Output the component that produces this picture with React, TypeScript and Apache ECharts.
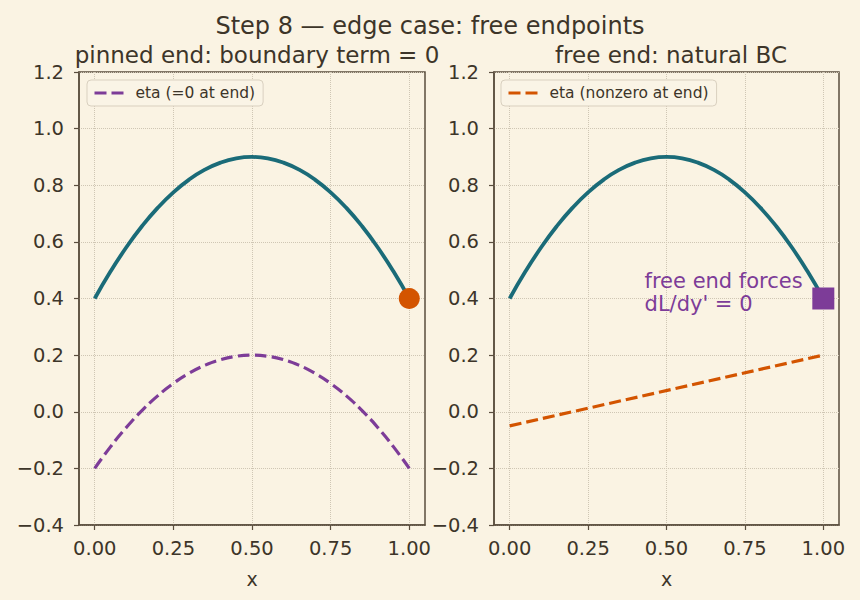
import React, { useEffect, useRef } from "react";
import * as echarts from "echarts";

const xs = [0, 0.05, 0.1, 0.15, 0.2, 0.25, 0.3, 0.35, 0.4, 0.45, 0.5, 0.55, 0.6, 0.65, 0.7, 0.75, 0.8, 0.85, 0.9, 0.95, 1.0];
const yCurve = [0.4, 0.495, 0.58, 0.655, 0.72, 0.775, 0.82, 0.855, 0.88, 0.895, 0.9, 0.895, 0.88, 0.855, 0.82, 0.775, 0.72, 0.655, 0.58, 0.495, 0.4];
const etaPinned = [-0.2, -0.124, -0.056, 0.004, 0.056, 0.1, 0.136, 0.164, 0.184, 0.196, 0.2, 0.196, 0.184, 0.164, 0.136, 0.1, 0.056, 0.004, -0.056, -0.124, -0.2];
const etaFreeX = [0, 1];
const etaFreeY = [-0.05, 0.2];
const endPoint = [1, 0.4];
const annotPoint = [0.43, 0.42];
const xTicks = [0, 0.25, 0.5, 0.75, 1.0];

const BG = "#faf3e3";
const TEXT = "#3d3529";
const AXIS = "#5a4e3e";
const GRID = "#cfc6b4";
const TEAL = "#1a6b78";
const PURPLE = "#7d3c98";
const ORANGE = "#d35400";
const FONT = "DejaVu Sans";
const DASH = [12, 5];

const zip = (a: number[], b: number[]) => a.map((v, i) => [v, b[i]]);

const fmtY = (v: number) => (v < 0 ? "\u2212" + Math.abs(v).toFixed(1) : v.toFixed(1));

export default function App() {
  const ref = useRef<HTMLDivElement>(null);
  useEffect(() => {
    if (!ref.current) return;
    const chart = echarts.init(ref.current, undefined, { renderer: "svg" });
    const xAxisBase = (gi: number) => ({
      type: "value" as const,
      gridIndex: gi,
      min: -0.05,
      max: 1.05,
      name: "x",
      nameLocation: "middle" as const,
      nameGap: 44,
      nameTextStyle: { color: TEXT, fontSize: 19, fontFamily: FONT },
      axisLine: { show: true, onZero: false, lineStyle: { color: AXIS, width: 1.5 } },
      axisTick: { show: true, length: 5, lineStyle: { color: AXIS, width: 1.2 }, customValues: xTicks },
      axisLabel: {
        color: TEXT,
        fontSize: 19.5,
        fontFamily: FONT,
        margin: 13,
        customValues: xTicks,
        formatter: (v: number) => v.toFixed(2),
      },
      splitLine: { show: true, lineStyle: { color: GRID, type: "dotted", width: 1 }, customValues: xTicks },
    });
    const yAxisBase = (gi: number) => ({
      type: "value" as const,
      gridIndex: gi,
      min: -0.4,
      max: 1.2,
      interval: 0.2,
      axisLine: { show: true, onZero: false, lineStyle: { color: AXIS, width: 1.5 } },
      axisTick: { show: true, length: 5, lineStyle: { color: AXIS, width: 1.2 } },
      axisLabel: { color: TEXT, fontSize: 19.5, fontFamily: FONT, margin: 15, formatter: fmtY },
      splitLine: { show: true, lineStyle: { color: GRID, type: "dotted", width: 1 } },
    });
    const legendBase = {
      orient: "vertical" as const,
      top: 80,
      itemWidth: 31,
      itemHeight: 12,
      itemGap: 0,
      padding: [5, 8, 5, 6],
      borderColor: "#d9d0bf",
      borderWidth: 1,
      borderRadius: 4,
      backgroundColor: "#faf4e6",
      itemStyle: { opacity: 0 },
      lineStyle: { width: 3, type: DASH },
      textStyle: { color: TEXT, fontSize: 15.5, fontFamily: FONT, padding: [0, 0, 0, 5] },
    };
    chart.setOption({
      animation: false,
      backgroundColor: BG,
      textStyle: { fontFamily: FONT },
      title: [
        { text: "Step 8 \u2014 edge case: free endpoints", left: "center", top: 9, textStyle: { color: TEXT, fontSize: 24, fontWeight: "normal", fontFamily: FONT } },
        { text: "pinned end: boundary term = 0", left: 252, textAlign: "center", top: 38, textStyle: { color: TEXT, fontSize: 23, fontWeight: "normal", fontFamily: FONT } },
        { text: "free end: natural BC", left: 666, textAlign: "center", top: 38, textStyle: { color: TEXT, fontSize: 23, fontWeight: "normal", fontFamily: FONT } },
      ],
      legend: [
        { ...legendBase, left: 87, data: ["eta (=0 at end)"] },
        { ...legendBase, left: 501, data: ["eta (nonzero at end)"] },
      ],
      grid: [
        { left: 79, top: 72, width: 346, height: 453, show: true, borderColor: AXIS, borderWidth: 1.5, backgroundColor: "transparent" },
        { left: 494, top: 72, width: 345, height: 453, show: true, borderColor: AXIS, borderWidth: 1.5, backgroundColor: "transparent" },
      ],
      xAxis: [xAxisBase(0), xAxisBase(1)],
      yAxis: [yAxisBase(0), yAxisBase(1)],
      series: [
        {
          type: "line", name: "y", xAxisIndex: 0, yAxisIndex: 0, data: zip(xs, yCurve), smooth: true,
          showSymbol: false, symbol: "none", lineStyle: { color: TEAL, width: 3.8 }, itemStyle: { color: TEAL }, z: 3,
        },
        {
          type: "line", name: "eta (=0 at end)", xAxisIndex: 0, yAxisIndex: 0, data: zip(xs, etaPinned), smooth: true,
          symbol: "none", lineStyle: { color: PURPLE, width: 3.2, type: DASH }, itemStyle: { color: PURPLE },
        },
        {
          type: "scatter", name: "pin", xAxisIndex: 0, yAxisIndex: 0, data: [endPoint], symbol: "circle", symbolSize: 21,
          itemStyle: { color: ORANGE, opacity: 1 }, z: 5,
        },
        {
          type: "line", name: "y2", xAxisIndex: 1, yAxisIndex: 1, data: zip(xs, yCurve), smooth: true,
          symbol: "none", lineStyle: { color: TEAL, width: 3.8 }, itemStyle: { color: TEAL }, z: 3,
        },
        {
          type: "line", name: "eta (nonzero at end)", xAxisIndex: 1, yAxisIndex: 1, data: zip(etaFreeX, etaFreeY),
          symbol: "none", lineStyle: { color: ORANGE, width: 3.2, type: DASH }, itemStyle: { color: ORANGE },
        },
        {
          type: "scatter", name: "free", xAxisIndex: 1, yAxisIndex: 1, data: [endPoint], symbol: "rect", symbolSize: 22,
          itemStyle: { color: PURPLE, opacity: 1 }, z: 5,
        },
        {
          type: "scatter", name: "annot", xAxisIndex: 1, yAxisIndex: 1, data: [annotPoint], symbolSize: 0, silent: true,
          itemStyle: { opacity: 1 },
          label: {
            show: true, position: "right", distance: 0, align: "left", verticalAlign: "middle",
            formatter: "free end forces\ndL/dy' = 0", color: PURPLE, fontSize: 21, lineHeight: 23, fontFamily: FONT,
          },
          z: 6,
        },
      ],
    });
    return () => chart.dispose();
  }, []);
  return <div ref={ref} style={{ width: 860, height: 600, position: "absolute", left: 0, top: 0 }} />;
}
